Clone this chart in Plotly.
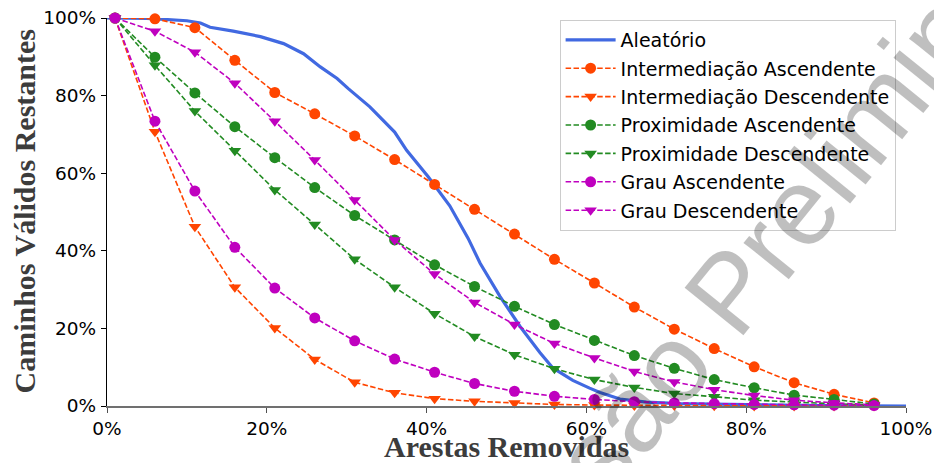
import plotly.graph_objects as go

# Percentage of edges removed at which each removal strategy was sampled
x_pct = [1, 6, 11, 16, 21, 26, 31, 36, 41, 46, 51, 56, 61, 66, 71, 76, 81, 86, 91, 96]

inter_asc = [100, 99.8, 97.5, 89.1, 80.8, 75.3, 69.6, 63.5, 57.1, 50.7, 44.3, 37.8,
             31.7, 25.5, 19.8, 14.8, 10.1, 6.0, 3.0, 0.8]
inter_desc = [100, 70.7, 46.2, 30.6, 20.1, 12.0, 6.1, 3.4, 1.9, 1.2, 0.8, 0.4,
              0.25, 0.15, 0.1, 0.05, 0.03, 0.02, 0.01, 0.0]
prox_asc = [100, 89.9, 80.7, 72.0, 64.0, 56.3, 49.1, 42.8, 36.4, 30.8, 25.7, 21.0,
            16.9, 13.0, 9.7, 6.8, 4.7, 2.8, 1.7, 0.5]
prox_desc = [100, 87.8, 76.0, 65.8, 55.7, 46.8, 37.8, 30.6, 23.8, 17.9, 13.2, 9.6,
             6.8, 4.8, 3.2, 2.4, 1.5, 1.0, 0.6, 0.2]
grau_asc = [100, 73.4, 55.4, 40.9, 30.4, 22.7, 16.8, 12.1, 8.7, 5.8, 3.8, 2.5,
            1.7, 1.1, 0.8, 0.6, 0.4, 0.3, 0.2, 0.1]
grau_desc = [100, 96.6, 91.2, 83.2, 73.4, 63.4, 53.1, 42.8, 34.0, 26.7, 21.0, 16.1,
             12.4, 8.9, 6.2, 4.2, 2.7, 1.5, 0.8, 0.3]

# Random removal curve (denser sampling)
rand_x = [0, 5, 10, 11.7, 12.9, 15.8, 19.2, 22.1, 24.6, 26.7, 28.8, 30.2, 32.9, 36,
          37.5, 40.2, 42.9, 45.2, 46.7, 49.2, 51.7, 54.2, 55.8, 58.3, 60.4, 61.7,
          64.2, 67.5, 71.7, 80, 90, 100]
rand_y = [100, 99.9, 99.3, 98.7, 97.6, 96.6, 95.2, 93.4, 90.8, 87.4, 84.4, 81.8, 77.1,
          70.6, 65.9, 59.1, 51.6, 43.2, 36.8, 28.2, 20.5, 13.7, 9.8, 6.6, 4.6, 3.5,
          1.8, 1.0, 0.6, 0.3, 0.1, 0.0]

tick_vals = [0, 20, 40, 60, 80, 100]
tick_text = ["0%", "20%", "40%", "60%", "80%", "100%"]

ORANGE = "#FF4500"
GREEN = "#228B22"
MAGENTA = "#BF00BF"
BLUE = "#4169E1"

fig = go.Figure()

fig.add_trace(go.Scatter(
    x=rand_x, y=rand_y, mode="lines", name="Aleatório",
    line=dict(color=BLUE, width=3.2), legendgroup="g0", cliponaxis=False))

series = [
    ("Intermediação Ascendente", inter_asc, ORANGE, "circle"),
    ("Intermediação Descendente", inter_desc, ORANGE, "triangle-down"),
    ("Proximidade Ascendente", prox_asc, GREEN, "circle"),
    ("Proximidade Descendente", prox_desc, GREEN, "triangle-down"),
    ("Grau Ascendente", grau_asc, MAGENTA, "circle"),
    ("Grau Descendente", grau_desc, MAGENTA, "triangle-down"),
]
for i, (name, vals, color, sym) in enumerate(series):
    fig.add_trace(go.Scatter(
        x=x_pct, y=vals, mode="lines+markers", name=name,
        line=dict(color=color, width=1.6, dash="5.5px,2.4px"),
        marker=dict(symbol=sym, size=11, color=color),
        legendgroup=f"g{i + 1}", cliponaxis=False))

tick_font = dict(family="DejaVu Sans", size=18.5, color="black")
title_font = dict(family="Liberation Serif", size=30, color="#3c3c3c")

fig.update_layout(
    width=934, height=463,
    margin=dict(l=106.5, r=27.5, t=17.5, b=56.5),
    paper_bgcolor="white", plot_bgcolor="white",
    showlegend=True,
    legend=dict(
        x=0.987, y=0.995, xanchor="right", yanchor="top",
        bgcolor="rgba(255,255,255,0.8)", bordercolor="#cccccc", borderwidth=1,
        font=dict(family="DejaVu Sans", size=19, color="black"),
        tracegroupgap=0.7, itemwidth=50,
    ),
    xaxis=dict(
        range=[0, 100], tickmode="array", tickvals=tick_vals, ticktext=tick_text,
        showgrid=False, zeroline=False, automargin=False,
        showline=True, linecolor="#707070", linewidth=1.6,
        ticks="outside", ticklen=5, tickcolor="#505050", tickwidth=1.2,
        tickfont=tick_font,
    ),
    yaxis=dict(
        range=[0, 100], tickmode="array", tickvals=tick_vals, ticktext=tick_text,
        showgrid=False, zeroline=False, automargin=False,
        showline=True, linecolor="black", linewidth=1.2,
        ticks="outside", ticklen=5, tickcolor="black", tickwidth=1.2,
        tickfont=tick_font, ticklabelstandoff=1,
    ),
)

# Axis titles
fig.add_annotation(
    text="<b>Arestas Removidas</b>", xref="paper", yref="paper",
    x=0.5, y=0, xanchor="center", yanchor="middle", yshift=-40.5,
    showarrow=False, font=title_font)
fig.add_annotation(
    text="<b>Caminhos Válidos Restantes</b>", xref="paper", yref="paper",
    x=0, y=0.5, xanchor="center", yanchor="middle", xshift=-83.5, yshift=1,
    textangle=-90, showarrow=False, font=title_font)

# Draft watermark laid diagonally across the page
fig.add_annotation(
    text="Versão Preliminar", xref="paper", yref="paper",
    x=0.80, y=0.35, xanchor="center", yanchor="middle",
    showarrow=False, textangle=-51,
    font=dict(family="Liberation Sans", size=110, color="rgba(0,0,0,0.25)"),
)

fig.write_html("out.html")
